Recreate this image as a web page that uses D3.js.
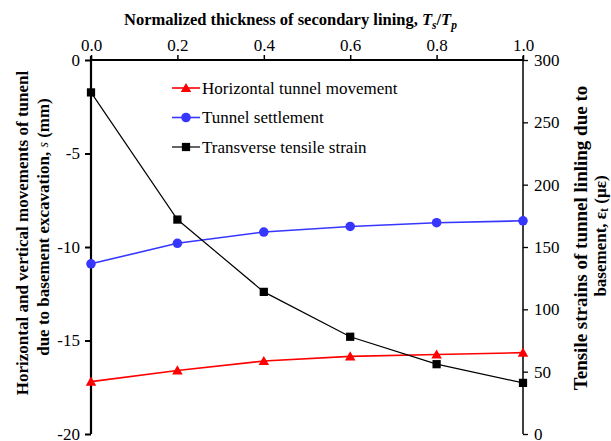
<!DOCTYPE html>
<html>
<head>
<meta charset="utf-8">
<script src="https://cdn.jsdelivr.net/npm/d3@7"></script>
<style>
  html, body { margin: 0; padding: 0; background: #fff; }
  svg { display: block; }
  svg text { font-family: "Liberation Serif", "Times New Roman", Times, serif !important; }
</style>
</head>
<body>
<svg id="chart" width="611" height="441"></svg>
<script>
// Normalized thickness of the secondary lining (Ts/Tp)
const thickness = [0.0, 0.2, 0.4, 0.6, 0.8, 1.0];
// Tunnel movements due to basement excavation (mm)
const horizontalMovement = [-17.2, -16.6, -16.1, -15.85, -15.75, -15.65];
const settlement = [-10.9, -9.8, -9.2, -8.9, -8.7, -8.6];
// Transverse tensile strain of the lining (microstrain)
const tensileStrain = [274, 172, 114, 78, 56, 41];

const xTicks = [0, 0.2, 0.4, 0.6, 0.8, 1.0];
const leftTicks = [0, -5, -10, -15, -20];
const rightTicks = [0, 50, 100, 150, 200, 250, 300];

const legendLabels = ["Horizontal tunnel movement", "Tunnel settlement", "Transverse tensile strain"];

const svg = d3.select("#chart");
const plotLeft = 91, plotRight = 523, plotTop = 60, plotBottom = 434;

const x = d3.scaleLinear().domain([0, 1]).range([plotLeft, plotRight]);
const yL = d3.scaleLinear().domain([-20, 0]).range([plotBottom, plotTop]);
const yR = d3.scaleLinear().domain([0, 300]).range([plotBottom, plotTop]);

// Top axis (x)
const xAxis = d3.axisTop(x).tickValues(xTicks).tickSize(5).tickSizeOuter(0)
  .tickFormat(d3.format(".1f"));
const gx = svg.append("g").attr("transform", `translate(0,${plotTop})`).call(xAxis);
gx.select(".domain").attr("stroke", "#000").attr("stroke-width", 2)
  .attr("d", `M${plotLeft - 1},0H${plotRight + 1}`);
gx.selectAll(".tick line").attr("stroke", "#000").attr("stroke-width", 1.5);
gx.selectAll(".tick text").attr("font-size", 17).attr("fill", "#000").attr("dy", "-1px");

// Left axis
const yLAxis = d3.axisLeft(yL).tickValues(leftTicks).tickSize(6).tickSizeOuter(0)
  .tickFormat(d => d === 0 ? "0" : "-" + Math.abs(d));
const gl = svg.append("g").attr("transform", `translate(${plotLeft},0)`).call(yLAxis);
gl.select(".domain").attr("stroke", "#000").attr("stroke-width", 2.2)
  .attr("d", `M0,${plotTop - 4}V${plotBottom}`);
gl.selectAll(".tick line").attr("stroke", "#000").attr("stroke-width", 2);
gl.selectAll(".tick text").attr("font-size", 17).attr("fill", "#000").attr("x", -11);

// Right axis
const yRAxis = d3.axisRight(yR).tickValues(rightTicks).tickSize(5).tickSizeOuter(0);
const gr = svg.append("g").attr("transform", `translate(${plotRight},0)`).call(yRAxis);
gr.select(".domain").attr("stroke", "#000").attr("stroke-width", 1.5)
  .attr("d", `M0,${plotTop - 4}V${plotBottom}`);
gr.selectAll(".tick line").attr("stroke", "#000").attr("stroke-width", 1.3);
gr.selectAll(".tick text").attr("font-size", 17).attr("fill", "#000").attr("x", 11);

// Series
const series = [
  { name: legendLabels[0], values: horizontalMovement, scale: yL, color: "#ff0000", width: 1.6, marker: "triangle" },
  { name: legendLabels[1], values: settlement, scale: yL, color: "#3636ff", width: 1.6, marker: "circle" },
  { name: legendLabels[2], values: tensileStrain, scale: yR, color: "#000000", width: 1.2, marker: "square" }
];

const symbolOf = {
  triangle: d3.symbol().type(d3.symbolTriangle).size(48),
  circle: d3.symbol().type(d3.symbolCircle).size(72),
  square: d3.symbol().type(d3.symbolSquare).size(68)
};

const plot = svg.append("g");
series.forEach(s => {
  const pts = thickness.map((t, i) => [x(t), s.scale(s.values[i])]);
  plot.append("path")
    .attr("d", d3.line()(pts))
    .attr("fill", "none").attr("stroke", s.color).attr("stroke-width", s.width);
  plot.selectAll(null).data(pts).enter().append("path")
    .attr("d", symbolOf[s.marker]())
    .attr("transform", d => `translate(${d[0]},${d[1] + (s.marker === "triangle" ? 1 : 0)})`)
    .attr("fill", s.color);
});

// Legend
const legend = svg.append("g");
const legendRows = [88, 117.5, 147];
series.forEach((s, i) => {
  const yy = legendRows[i];
  legend.append("line").attr("x1", 172).attr("x2", 200).attr("y1", yy).attr("y2", yy)
    .attr("stroke", s.color).attr("stroke-width", s.width);
  legend.append("path").attr("d", symbolOf[s.marker]())
    .attr("transform", `translate(186,${yy + (s.marker === "triangle" ? 1 : 0)})`)
    .attr("fill", s.color);
  legend.append("text").attr("x", 202).attr("y", yy).attr("dy", "0.35em")
    .attr("font-size", 17).attr("fill", "#000").text(s.name);
});

// Top axis title
const title = svg.append("text").attr("x", 124).attr("y", 25)
  .attr("font-size", 16.5).attr("font-weight", "bold").attr("fill", "#000");
title.append("tspan").text("Normalized thickness of secondary lining, ");
title.append("tspan").attr("font-style", "italic").text("T");
title.append("tspan").attr("font-style", "italic").attr("font-size", 11.5).attr("dy", 4).text("s");
title.append("tspan").attr("dy", -4).text("/");
title.append("tspan").attr("font-style", "italic").text("T");
title.append("tspan").attr("font-style", "italic").attr("font-size", 11.5).attr("dy", 4).text("p");

// Left axis title (two lines)
svg.append("text").attr("transform", "translate(22,233) rotate(-90)")
  .attr("text-anchor", "middle").attr("dominant-baseline", "central")
  .attr("font-size", 17).attr("font-weight", "bold").attr("fill", "#000")
  .text("Horizontal and vertical movements of tunenl");
const lt2 = svg.append("text").attr("transform", "translate(43,227) rotate(-90)")
  .attr("text-anchor", "middle").attr("dominant-baseline", "central")
  .attr("font-size", 17).attr("font-weight", "bold").attr("fill", "#000");
lt2.append("tspan").text("due to basement excavation, ");
lt2.append("tspan").attr("font-style", "italic").attr("font-weight", "normal").attr("font-size", 14).text("s");
lt2.append("tspan").text(" (mm)");

// Right axis title (two lines)
svg.append("text").attr("transform", "translate(580,238) rotate(-90)")
  .attr("text-anchor", "middle").attr("dominant-baseline", "central")
  .attr("font-size", 19).attr("font-weight", "bold").attr("fill", "#000")
  .text("Tensile strains of tunnel linling due to");
const rt2 = svg.append("text").attr("transform", "translate(600,236) rotate(-90)")
  .attr("text-anchor", "middle").attr("dominant-baseline", "central")
  .attr("font-size", 17).attr("font-weight", "bold").attr("fill", "#000");
rt2.append("tspan").text("basement, ");
rt2.append("tspan").text("ε");
rt2.append("tspan").attr("font-size", 12).attr("dy", 4).text("t");
rt2.append("tspan").attr("dy", -4).text(" (με)");
</script>
</body>
</html>
